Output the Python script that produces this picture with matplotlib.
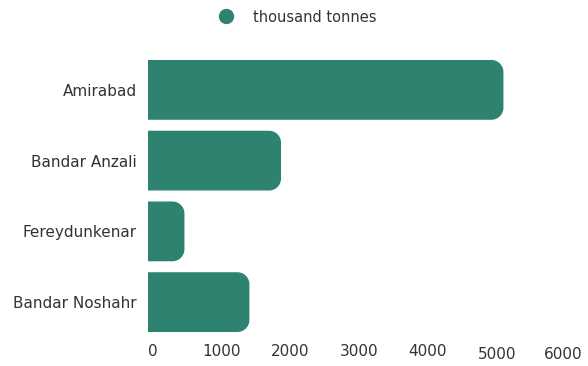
import matplotlib.pyplot as plt
import matplotlib.transforms as mtransforms
from matplotlib.path import Path
from matplotlib.patches import PathPatch
from matplotlib.lines import Line2D

ports = ["Amirabad", "Bandar Anzali", "Fereydunkenar", "Bandar Noshahr"]
tonnes = [5170, 1935, 530, 1475]
ticks = [0, 1000, 2000, 3000, 4000, 5000, 6000]
series = "thousand tonnes"

green = "#2e8370"
txt = "#333333"
plt.rcParams["font.family"] = ["DejaVu Sans"]

fig = plt.figure(figsize=(5.88, 3.66), dpi=100)
W, H = 588, 366
ax = fig.add_axes([148 / W, 1 - 337.5 / H, 412.5 / W, 283 / H])
ax.set_xlim(0, 6000)
ax.set_ylim(len(ports) - 0.5, -0.5)

# corner radius in pixels, converted to data units on each axis
r = 12
rx = r * 6000 / 412.5
ry = r * len(ports) / 283
k = 0.5523
h = 0.845
for i, v in enumerate(tonnes):
    y0, y1 = i - h / 2, i + h / 2
    verts = [
        (0, y0), (v - rx, y0),
        (v - rx + k * rx, y0), (v, y0 + ry - k * ry), (v, y0 + ry),
        (v, y1 - ry),
        (v, y1 - ry + k * ry), (v - rx + k * rx, y1), (v - rx, y1),
        (0, y1), (0, y0),
    ]
    codes = [Path.MOVETO, Path.LINETO,
             Path.CURVE4, Path.CURVE4, Path.CURVE4,
             Path.LINETO,
             Path.CURVE4, Path.CURVE4, Path.CURVE4,
             Path.LINETO, Path.CLOSEPOLY]
    ax.add_patch(PathPatch(Path(verts, codes), facecolor=green, edgecolor="none"))

for s in ax.spines.values():
    s.set_visible(False)
ax.set_yticks(range(len(ports)))
ax.set_yticklabels(ports, fontsize=11, color=txt)
ax.set_xticks(ticks)
ax.set_xticklabels([str(t) for t in ticks], fontsize=11, color=txt)
ax.tick_params(axis="y", length=0, pad=8)
ax.tick_params(axis="x", length=0, pad=5)
for j, lab in enumerate(ax.get_xticklabels()):
    dy = -3 / 100 if ticks[j] >= 5000 else 0
    dx = 5 / 100 if ticks[j] < 6000 else 3 / 100
    lab.set_transform(lab.get_transform() +
                      mtransforms.ScaledTranslation(dx, dy, fig.dpi_scale_trans))

handle = Line2D([], [], marker="o", linestyle="none", color=green, markersize=10)
fig.legend([handle], [series], loc="center", bbox_to_anchor=(0.5, 1 - 17 / H),
           frameon=False, fontsize=10.5, labelcolor=txt, handletextpad=0.9)

fig.savefig("out.png", dpi=100)
